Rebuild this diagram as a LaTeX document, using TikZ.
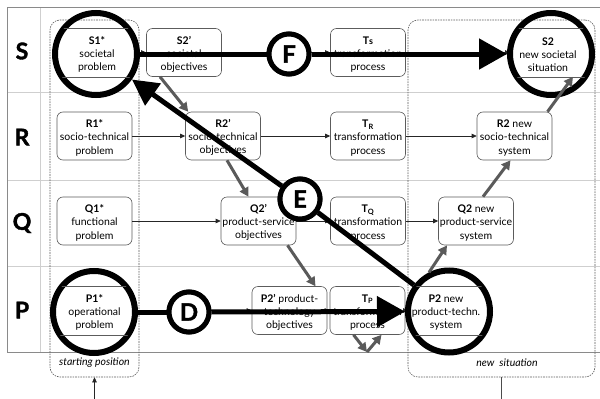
\documentclass[tikz,border=0pt]{standalone}
\usepackage{fontspec}
\setmainfont{Lato}
\newfontfamily\heavyfont{Lato}[BoldFeatures={FakeBold=1.6}]
\usetikzlibrary{arrows.meta}

% bold first line of a box, with a tall strut to sit the block a little lower
\newcommand{\boxhead}[1]{\rule{0pt}{11.5pt}\textbf{#1}}

\definecolor{gridline}{HTML}{8A8A8A}
\definecolor{rowline}{HTML}{CFCFCF}
\definecolor{boxline}{HTML}{5C5C5C}
\definecolor{flow}{HTML}{5A5A5A}

\tikzset{
  box/.style={draw=boxline, line width=0.6pt, rounded corners=6pt, fill=white,
    minimum width=75pt, minimum height=48pt, align=center, inner sep=0pt,
    font=\fontsize{10.5}{13.2}\selectfont},
  openbox/.style={box, draw=none, fill=none},
  edgeline/.style={boxline, line width=0.6pt},
  rowlabel/.style={font=\fontsize{23}{23}\selectfont\heavyfont\bfseries},
  dashbox/.style={draw=boxline, line width=0.6pt, dash pattern=on 1.6pt off 1pt,
    rounded corners=10pt, inner sep=0pt},
  sitlabel/.style={font=\fontsize{10.5}{12}\selectfont\itshape},
  thinarrow/.style={draw=black!85, line width=0.6pt, -{Triangle[length=5pt,width=4.5pt]}},
  thinline/.style={draw=black!70, line width=0.6pt},
  grayarrow/.style={draw=flow, line width=3pt, -{Triangle[length=9pt,width=9.5pt]}},
  ring/.style={circle, draw=black, line width=6pt, minimum size=82pt, inner sep=0pt},
  letterring/.style={circle, draw=black, fill=white, line width=5pt, minimum size=40pt,
    inner sep=0pt, font=\fontsize{24}{24}\selectfont\heavyfont\bfseries},
  bigline/.style={draw=black, line width=5pt},
  bigarrow/.style={bigline, -{Triangle[length=28pt,width=30pt]}},
}

\begin{document}
\begin{tikzpicture}[x=1pt, y=-1pt]
\useasboundingbox (0,0) rectangle (600,399);

% table frame and row separators
\draw[rowline, line width=0.8pt] (7,92) -- (600,92) (7,180) -- (600,180) (7,266) -- (600,266)
  (40,7) -- (40,352);
\draw[gridline, line width=0.9pt] (600,7) -- (7,7) -- (7,352) -- (600,352);

% row labels
\node[rowlabel] (rowS) at (22,51) {S};
\node[rowlabel] (rowR) at (22,137) {R};
\node[rowlabel] (rowQ) at (22,223) {Q};
\node[rowlabel] (rowP) at (22,310) {P};

% starting position and new situation frames
\node[dashbox, minimum width=89pt, minimum height=357pt] (start) at (94.5,198.5) {};
\node[sitlabel] (startlabel) at (94.5,363) {starting position};
\node[dashbox, minimum width=187pt, minimum height=357pt] (newsit) at (501.5,198.5) {};
\node[sitlabel] (newlabel) at (507,363) {new~~situation};
\coordinate (startfoot) at (94.5,399);
\coordinate (newfoot) at (501.5,399);
\draw[thinarrow] (startfoot) -- (start.south);
\draw[thinline] (newsit.south) -- (newfoot);

% S row
\node[openbox] (s1) at (97,52.5) {\boxhead{S1*}\\societal\\problem};
\node[box] (s2p) at (184,52.5) {\boxhead{S2’}\\societal\\objectives};
\node[box] (ts) at (368,52.5) {\boxhead{T{\small s}}\\transformation\\process};
\node[openbox] (s2) at (548,52.5) {\boxhead{S2}\\new societal\\situation};
% R row
\node[box] (r1) at (94.5,136) {\boxhead{R1*}\\socio-technical\\problem};
\node[box] (r2p) at (223,136) {\boxhead{R2’}\\socio-technical\\objectives};
\node[box] (tr) at (368,136) {\boxhead{T\textsubscript{R}}\\transformation\\process};
\node[box] (r2) at (514.5,136) {\boxhead{R2} new\\socio-technical\\system};
% Q row
\node[box] (q1) at (94.5,221) {\boxhead{Q1*}\\functional\\problem};
\node[box] (q2p) at (258.5,221) {\boxhead{Q2’}\\product-service\\objectives};
\node[box] (tq) at (368,221) {\boxhead{T\textsubscript{Q}}\\transformation\\process};
\node[box] (q2) at (476,221) {\boxhead{Q2} new\\product-service\\system};
% P row
\node[openbox] (p1) at (94.5,310.5) {\boxhead{P1*}\\operational\\problem};
\node[box] (p2p) at (289.5,310.5) {\boxhead{P2’} product-\\technology\\objectives};
\node[box] (tp) at (367.5,310.5) {\boxhead{T\textsubscript{P}}\\transformation\\process};
\node[openbox] (p2) at (446,310.5) {\boxhead{P2} new\\product-techn.\\system};

% thin flow arrows along each row
\foreach \a/\b in {s1/s2p, s2p/ts, ts/s2, r1/r2p, r2p/tr, tr/r2, q1/q2p, q2p/tq, tq/q2, p1/p2p, p2p/tp, tp/p2}
  \draw[thinarrow] (\a) -- (\b);

% rings around the start and end problems
\node[ring] (cS1) at (96,54) {};
\node[ring] (cS2) at (551,54) {};
\node[ring] (cP1) at (94,312) {};
\node[ring] (cP2) at (449,311.5) {};

% box edges seen inside the rings
\foreach \n/\c in {s1/cS1, s2/cS2, p1/cP1, p2/cP2} {
  \begin{scope}
    \clip (\c.center) circle (41pt);
    \draw[edgeline] (\n.north west) -- (\n.north east) (\n.south west) -- (\n.south east);
  \end{scope}
}

% grey cascade arrows
\coordinate (vtip) at (367,352);
\draw[grayarrow] ([xshift=-24pt]s2p.south) -- ([xshift=3pt]r2p.north west);
\draw[grayarrow] ([xshift=4pt]r2p.south) -- ([xshift=-10pt]q2p.north);
\draw[grayarrow] ([xshift=29pt]q2p.south) -- ([xshift=26pt]p2p.north);
\draw[grayarrow] ([xshift=-14pt]tp.south) -- (vtip);
\draw[grayarrow] (vtip) -- ([xshift=14pt]tp.south);
\draw[grayarrow] (cP2.117) -- ([xshift=-29pt]q2.south);
\draw[grayarrow] ([xshift=7pt]q2.north) -- ([xshift=-4pt]r2.south);
\draw[grayarrow] ([xshift=33pt]r2.north) -- ([xshift=25pt]s2.south);

% letter markers
\node[letterring] (F) at (289,54) {F};
\node[letterring] (E) at (300,199) {E};
\node[letterring] (D) at (189,312) {D};

% heavy routes
\draw[bigline] (cS1) -- (F);
\draw[bigarrow] (F) -- (cS2);
\draw[bigline] (cP1) -- (D);
\draw[bigarrow] (D) -- (cP2);
\draw[bigline] (cP2) -- (E);
\draw[bigline, -{Triangle[length=26pt,width=26pt]}] (E) -- (cS1);

% letter markers drawn again above the routes
\node[letterring] at (F) {F};
\node[letterring] at (E) {E};
\node[letterring] at (D) {D};
\end{tikzpicture}
\end{document}
